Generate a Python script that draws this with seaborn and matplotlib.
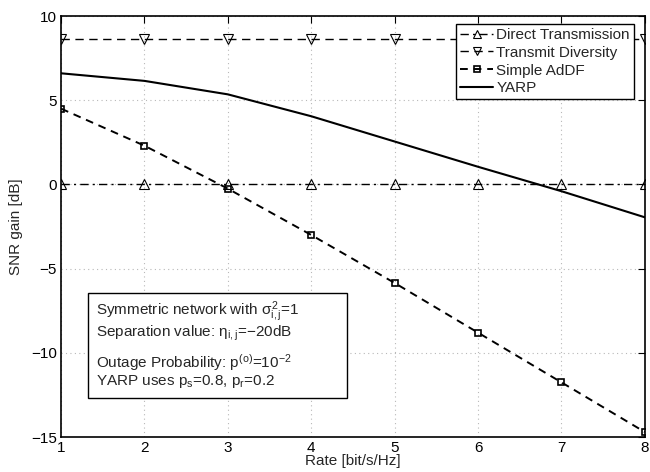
import pandas as pd
import matplotlib
matplotlib.use('Agg')
import matplotlib.pyplot as plt
import seaborn as sns
from matplotlib.patches import Rectangle

# Datos
rates = [1, 2, 3, 4, 5, 6, 7, 8]
direct_tx = [0, 0, 0, 0, 0, 0, 0, 0]
transmit_div = [8.65, 8.65, 8.65, 8.65, 8.65, 8.65, 8.65, 8.65]
simple_addf = [4.5, 2.3, -0.25, -3.0, -5.85, -8.8, -11.75, -14.7]
yarp = [6.6, 6.15, 5.35, 4.05, 2.55, 1.05, -0.4, -1.95]

x_ticks = [1, 2, 3, 4, 5, 6, 7, 8]
y_ticks = [-15, -10, -5, 0, 5, 10]

sns.set_style('white')
plt.rcParams['font.family'] = ['Liberation Sans', 'DejaVu Sans']
plt.rcParams['font.size'] = 10
plt.rcParams['mathtext.fontset'] = 'custom'
plt.rcParams['mathtext.rm'] = 'Liberation Sans'
plt.rcParams['mathtext.it'] = 'Liberation Sans'
plt.rcParams['mathtext.sf'] = 'Liberation Sans'

df = pd.DataFrame({'rate': rates, 'direct': direct_tx, 'div': transmit_div,
                   'addf': simple_addf, 'yarp': yarp})

fig = plt.figure(figsize=(6.5, 4.72), dpi=100)
ax = fig.add_axes([0.094, 0.074, 0.898, 0.892])

sns.lineplot(data=df, x='rate', y='direct', ax=ax, color='black', lw=1.0,
             linestyle=(0, (6, 3, 1.5, 3)), marker='^', markersize=7,
             markerfacecolor='none', markeredgecolor='black', mew=0.8,
             label='Direct Transmission')
sns.lineplot(data=df, x='rate', y='div', ax=ax, color='black', lw=1.0,
             linestyle=(0, (6, 4)), marker='v', markersize=7,
             markerfacecolor='none', markeredgecolor='black', mew=0.8,
             label='Transmit Diversity')
sns.lineplot(data=df, x='rate', y='addf', ax=ax, color='black', lw=1.4,
             linestyle=(0, (4, 3)), marker='s', markersize=5,
             markerfacecolor='none', markeredgecolor='black', mew=1.2,
             label='Simple AdDF')
sns.lineplot(data=df, x='rate', y='yarp', ax=ax, color='black', lw=1.5,
             linestyle='-', label='YARP')

ax.set_xlim(1, 8)
ax.set_ylim(-15, 10)
ax.set_xticks(x_ticks)
ax.set_yticks(y_ticks)
ax.set_yticklabels([str(v).replace('-', '\u2212') for v in y_ticks])
ax.grid(True, color='#b8b8b8', linestyle=(0, (1, 3)), linewidth=0.8)
ax.tick_params(direction='in', length=5, width=0.8, top=True, right=True,
               labelsize=11, pad=3, colors='black')
for s in ax.spines.values():
    s.set_color('black')
    s.set_linewidth(1.2)

ax.set_xlabel('Rate [bit/s/Hz]', fontsize=11, labelpad=-1)
ax.set_ylabel('SNR gain [dB]', fontsize=11, labelpad=6)

leg = ax.legend(loc='upper right', bbox_to_anchor=(0.981, 0.981),
                fancybox=False, edgecolor='black', framealpha=1,
                fontsize=11, handlelength=2.2, handletextpad=0.2,
                labelspacing=0.25, borderpad=0.25, borderaxespad=0,
                markerscale=0.85)
leg.get_frame().set_linewidth(1.0)

# Caja de texto con parametros
box = Rectangle((0.046, 0.093), 0.444, 0.249, transform=ax.transAxes,
                facecolor='white', edgecolor='black', linewidth=1.0, zorder=5)
ax.add_patch(box)
lines = [
    (0.297, r'Symmetric network with $\sigma^2_{i,j}$=1'),
    (0.247, r'Separation value: $\eta_{i,j}$=$-$20dB'),
    (0.176, r'Outage Probability: p$^{(o)}$=10$^{-2}$'),
    (0.131, r'YARP uses p$_s$=0.8, p$_r$=0.2'),
]
for yy, txt in lines:
    ax.text(0.060, yy, txt, transform=ax.transAxes, va='center', ha='left',
            fontsize=11, zorder=6)

fig.savefig('out.png', dpi=100)
